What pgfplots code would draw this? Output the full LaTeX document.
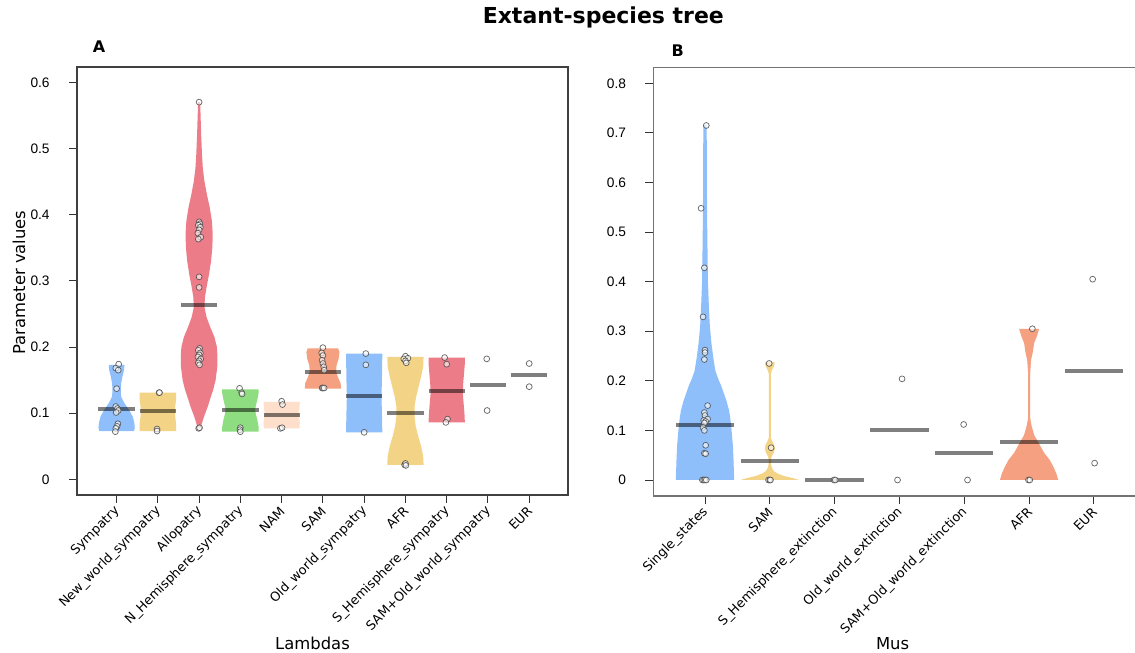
\documentclass[border=0pt]{standalone}
\usepackage{pgfplots}
\pgfplotsset{compat=1.18}
\usepackage{pgfplotstable}
\usepackage{fontspec}
\setmainfont{DejaVu Sans}
\newfontfamily\arialf{Liberation Sans}
\definecolor{vblue}{RGB}{143,191,250}
\definecolor{vyellow}{RGB}{243,211,134}
\definecolor{vred}{RGB}{236,125,136}
\definecolor{vgreen}{RGB}{142,221,128}
\definecolor{vpeach}{RGB}{253,223,204}
\definecolor{vorange}{RGB}{245,160,128}

% ---------- violin half-width profiles (y, half width in x units) ----------
\pgfplotstableread{
y w
0.073 -0.015
0.073 0.42
0.078 0.44
0.085 0.43
0.095 0.39
0.105 0.30
0.115 0.19
0.125 0.11
0.135 0.10
0.145 0.11
0.155 0.14
0.165 0.18
0.173 0.19
0.173 -0.015
}\vAa
\pgfplotstableread{
y w
0.073 -0.015
0.073 0.44
0.085 0.44
0.095 0.42
0.102 0.41
0.110 0.42
0.120 0.44
0.131 0.44
0.131 -0.015
}\vAb
\pgfplotstableread{
y w
0.077 -0.015
0.077 0.03
0.085 0.07
0.095 0.12
0.110 0.21
0.120 0.26
0.135 0.34
0.150 0.40
0.170 0.44
0.185 0.445
0.200 0.43
0.215 0.37
0.230 0.27
0.245 0.18
0.260 0.13
0.275 0.14
0.290 0.18
0.310 0.24
0.330 0.29
0.350 0.32
0.370 0.33
0.390 0.31
0.410 0.26
0.430 0.19
0.450 0.13
0.470 0.09
0.490 0.07
0.520 0.05
0.550 0.035
0.570 0.025
0.570 -0.015
}\vAc
\pgfplotstableread{
y w
0.072 -0.015
0.072 0.44
0.080 0.44
0.090 0.41
0.100 0.37
0.105 0.36
0.110 0.37
0.120 0.41
0.130 0.44
0.136 0.44
0.136 -0.015
}\vAd
\pgfplotstableread{
y w
0.077 -0.015
0.077 0.43
0.085 0.44
0.095 0.42
0.100 0.41
0.107 0.43
0.117 0.44
0.117 -0.015
}\vAe
\pgfplotstableread{
y w
0.137 -0.015
0.137 0.44
0.145 0.43
0.155 0.36
0.163 0.32
0.172 0.33
0.182 0.38
0.192 0.40
0.198 0.37
0.198 -0.015
}\vAf
\pgfplotstableread{
y w
0.071 -0.015
0.071 0.44
0.100 0.43
0.125 0.42
0.150 0.43
0.190 0.44
0.190 -0.015
}\vAg
\pgfplotstableread{
y w
0.022 -0.015
0.022 0.44
0.035 0.43
0.050 0.38
0.065 0.31
0.080 0.25
0.095 0.22
0.110 0.22
0.125 0.26
0.140 0.32
0.155 0.38
0.170 0.43
0.185 0.44
0.185 -0.015
}\vAh
\pgfplotstableread{
y w
0.086 -0.015
0.086 0.44
0.100 0.43
0.115 0.41
0.130 0.39
0.145 0.40
0.160 0.42
0.175 0.44
0.184 0.44
0.184 -0.015
}\vAi
% panel B
\pgfplotstableread{
y w
0.000 -0.015
0.000 0.45
0.020 0.445
0.040 0.44
0.070 0.43
0.100 0.41
0.125 0.39
0.141 0.37
0.160 0.33
0.175 0.29
0.190 0.25
0.202 0.21
0.220 0.16
0.245 0.13
0.275 0.10
0.310 0.075
0.350 0.06
0.400 0.045
0.450 0.04
0.500 0.035
0.580 0.03
0.650 0.028
0.715 0.026
0.715 -0.015
}\vBa
\pgfplotstableread{
y w
0.000 -0.015
0.000 0.45
0.004 0.35
0.008 0.22
0.013 0.12
0.018 0.06
0.024 0.035
0.030 0.02
0.040 0.012
0.048 0.03
0.055 0.06
0.063 0.078
0.070 0.068
0.078 0.038
0.085 0.014
0.095 0.004
0.200 0.003
0.212 0.008
0.222 0.035
0.230 0.065
0.237 0.077
0.237 -0.015
}\vBb
\pgfplotstableread{
y w
0.000 -0.015
0.000 0.45
0.013 0.42
0.025 0.38
0.040 0.32
0.055 0.23
0.074 0.15
0.090 0.08
0.108 0.04
0.125 0.015
0.140 0.006
0.180 0.004
0.215 0.015
0.242 0.03
0.260 0.06
0.276 0.077
0.290 0.12
0.305 0.155
0.305 -0.015
}\vBf

\newcommand{\violin}[3]{%
  \addplot[fill=#2, draw=none] table[x expr=#1+\thisrow{w}, y=y]{#3};
  \addplot[fill=#2, draw=none] table[x expr=#1-\thisrow{w}, y=y]{#3};
}

\pgfplotsset{
  common/.style={
    scale only axis,
    tick align=outside,
    tick pos=left,
    major tick length=6pt,
    tick style={black!80, line width=0.7pt},
    axis line style={line width=0.9pt},
    xticklabel style={font=\fontsize{9.6}{10}\selectfont, yshift=-2pt, xshift=3pt, rotate=45, anchor=east},
    yticklabel style={font=\arialf\fontsize{10.3}{11}\selectfont, xshift=-11pt,
      /pgf/number format/fixed, /pgf/number format/precision=1},
    /pgf/number format/assume math mode=true,
  },
  pts/.style={only marks, mark=*, mark size=2.2pt,
    mark options={fill=white, fill opacity=0.6, draw=black!70, draw opacity=0.85, line width=0.55pt}},
  med/.style={black, opacity=0.5, line width=3pt, line cap=butt},
}

\begin{document}
\begin{tikzpicture}
\useasboundingbox (0,0) rectangle (851.25pt,489.75pt);

% ================= Panel A =================
\begin{axis}[common,
  at={(57.75pt,118.5pt)}, anchor=south west,
  width=368.25pt, height=321pt,
  xmin=0.04, xmax=11.94, ymin=-0.0237, ymax=0.6231,
  xtick={1,2,3,4,5,6,7,8,9,10,11},
  xticklabels={Sympatry,New\_world\_sympatry,Allopatry,N\_Hemisphere\_sympatry,NAM,SAM,Old\_world\_sympatry,AFR,S\_Hemisphere\_sympatry,SAM+Old\_world\_sympatry,EUR},
  ytick={0,0.1,0.2,0.3,0.4,0.5,0.6},
  axis line style={black!75},
]
\violin{1}{vblue}{\vAa}
\violin{2}{vyellow}{\vAb}
\violin{3}{vred}{\vAc}
\violin{4}{vgreen}{\vAd}
\violin{5}{vpeach}{\vAe}
\violin{6}{vorange}{\vAf}
\violin{7}{vblue}{\vAg}
\violin{8}{vyellow}{\vAh}
\violin{9}{vred}{\vAi}

\addplot[med] coordinates {(0.56,0.107) (1.44,0.107)};
\addplot[med] coordinates {(1.56,0.103) (2.44,0.103)};
\addplot[med] coordinates {(2.56,0.263) (3.44,0.263)};
\addplot[med] coordinates {(3.56,0.104) (4.44,0.104)};
\addplot[med] coordinates {(4.56,0.097) (5.44,0.097)};
\addplot[med] coordinates {(5.56,0.162) (6.44,0.162)};
\addplot[med] coordinates {(6.56,0.126) (7.44,0.126)};
\addplot[med] coordinates {(7.56,0.100) (8.44,0.100)};
\addplot[med] coordinates {(8.56,0.133) (9.44,0.133)};
\addplot[med] coordinates {(9.56,0.143) (10.44,0.143)};
\addplot[med] coordinates {(10.56,0.158) (11.44,0.158)};

\addplot[pts] coordinates {
(1.05,0.174) (0.98,0.168) (1.04,0.165) (1.00,0.137) (0.98,0.110) (1.02,0.107)
(1.04,0.104) (0.99,0.101) (1.03,0.084) (1.01,0.080) (0.98,0.077) (0.97,0.072)
(2.03,0.131) (2.04,0.131) (1.98,0.076) (1.98,0.073)
(3.00,0.570) (3.00,0.389) (3.02,0.386) (2.98,0.384) (3.03,0.381) (3.00,0.377)
(2.97,0.372) (3.04,0.366) (2.98,0.363) (3.00,0.306) (3.00,0.290) (3.01,0.198)
(2.98,0.195) (3.03,0.191) (3.00,0.188) (2.97,0.185) (3.04,0.182) (3.00,0.179)
(2.98,0.176) (3.01,0.173) (2.99,0.077) (3.01,0.078)
(3.98,0.1375) (4.03,0.131) (4.04,0.129) (4.00,0.078) (3.99,0.075) (4.00,0.072)
(5.00,0.118) (5.02,0.113) (4.97,0.077) (5.01,0.078)
(6.00,0.199) (5.97,0.191) (6.00,0.187) (5.98,0.180) (6.00,0.175) (6.02,0.170)
(6.03,0.165) (5.98,0.138) (6.00,0.138) (6.03,0.138)
(7.04,0.190) (7.04,0.173) (7.00,0.071)
(8.00,0.186) (7.96,0.182) (8.06,0.183) (8.00,0.179) (8.02,0.176) (7.98,0.022) (8.00,0.024) (8.01,0.021)
(8.95,0.184) (9.00,0.174) (9.02,0.091) (8.98,0.086)
(9.97,0.182) (9.98,0.104)
(11.00,0.175) (11.00,0.140)
};
\end{axis}

% ================= Panel B =================
\begin{axis}[common,
  at={(490pt,117.75pt)}, anchor=south west,
  width=369.2pt, height=321.5pt,
  xmin=0.203, xmax=7.797, ymin=-0.0323, ymax=0.8323,
  xtick={1,2,3,4,5,6,7},
  xticklabels={Single\_states,SAM,S\_Hemisphere\_extinction,Old\_world\_extinction,SAM+Old\_world\_extinction,AFR,EUR},
  ytick={0,0.1,0.2,0.3,0.4,0.5,0.6,0.7,0.8},
  axis line style={black!55},
]
\violin{1}{vblue}{\vBa}
\violin{2}{vyellow}{\vBb}
\violin{6}{vorange}{\vBf}

\addplot[med] coordinates {(0.55,0.110) (1.45,0.110)};
\addplot[med] coordinates {(1.55,0.038) (2.45,0.038)};
\addplot[med] coordinates {(2.55,0.000) (3.45,0.000)};
\addplot[med] coordinates {(3.55,0.101) (4.45,0.101)};
\addplot[med] coordinates {(4.55,0.055) (5.45,0.055)};
\addplot[med] coordinates {(5.55,0.076) (6.45,0.076)};
\addplot[med] coordinates {(6.55,0.219) (7.45,0.219)};

\addplot[pts] coordinates {
(1.02,0.715) (0.94,0.548) (0.99,0.428) (0.97,0.329) (1.00,0.262) (1.00,0.257)
(0.99,0.243) (1.04,0.150) (0.99,0.136) (1.00,0.130) (1.04,0.123) (0.98,0.120)
(1.01,0.118) (0.99,0.115) (0.97,0.106) (0.99,0.100) (1.01,0.070) (0.99,0.054)
(1.01,0.053) (0.96,0.000) (0.98,0.000) (1.00,0.000) (1.02,0.000)
(1.99,0.235) (2.02,0.065) (1.98,0.000) (2.00,0.000) (2.01,0.000)
(2.99,0.000) (3.01,0.000)
(4.04,0.204) (3.97,0.000)
(4.99,0.112) (5.05,0.000)
(6.05,0.305) (5.99,0.000) (6.01,0.000)
(6.98,0.405) (7.01,0.034)
};
\end{axis}

% ================= texts =================
\node[anchor=base, font=\bfseries\fontsize{16.5}{18}\selectfont] at (452.5pt,471.75pt) {Extant-species tree};
\node[anchor=base, font=\bfseries\fontsize{12}{14}\selectfont] at (74.25pt,450pt) {A};
\node[anchor=base, font=\bfseries\fontsize{12}{14}\selectfont] at (508.3pt,447.2pt) {B};
\node[anchor=base, font=\fontsize{12.3}{14}\selectfont] at (234.4pt,2.6pt) {Lambdas};
\node[anchor=base, font=\fontsize{12.3}{14}\selectfont] at (669.4pt,2.6pt) {Mus};
\node[anchor=base, rotate=90, font=\fontsize{12.3}{14}\selectfont] at (18.75pt,277.9pt) {Parameter values};
\end{tikzpicture}
\end{document}
